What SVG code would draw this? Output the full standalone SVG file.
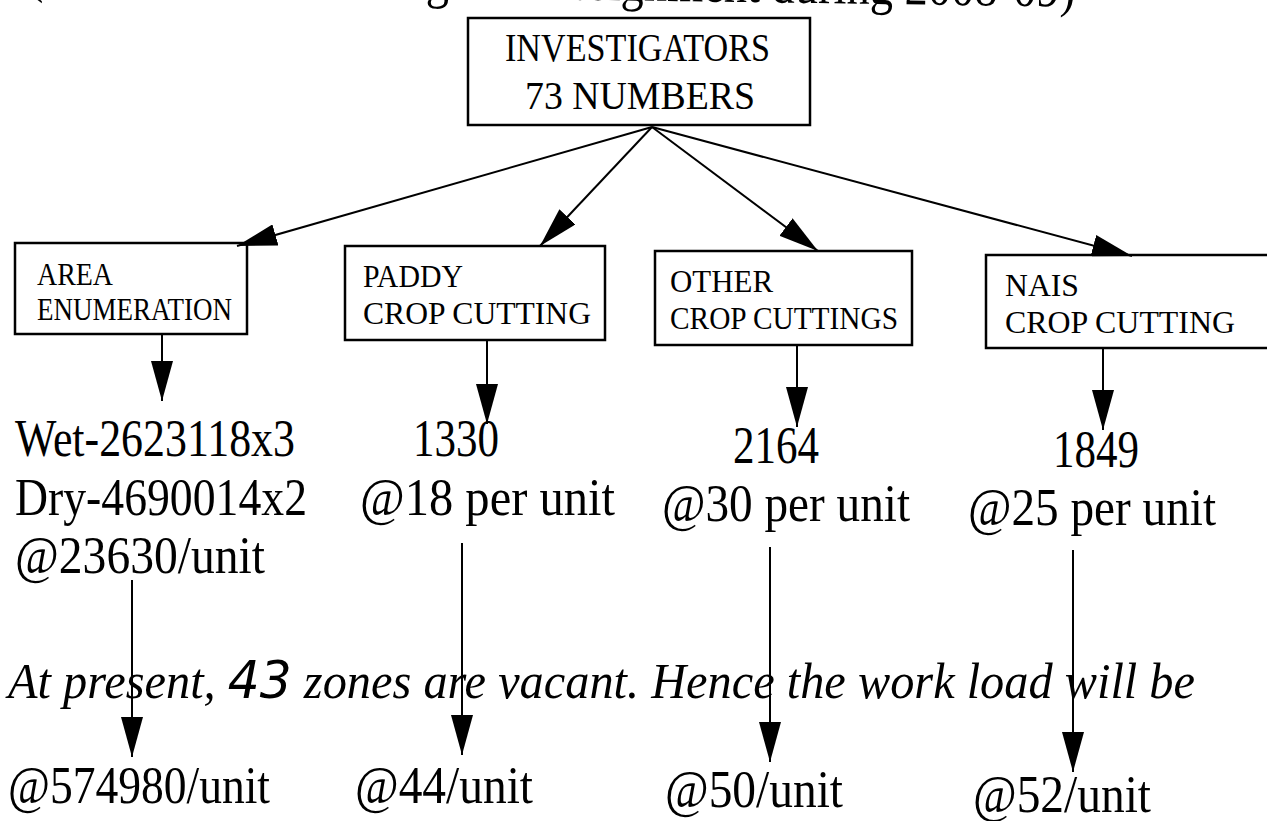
<svg xmlns="http://www.w3.org/2000/svg" width="1267" height="821" viewBox="0 0 1267 821">
<defs>
<marker id="ah" markerUnits="userSpaceOnUse" markerWidth="40" markerHeight="22" refX="40" refY="11" orient="auto">
<path d="M0,0 L40,11 L0,22 z" fill="#000"/>
</marker>
<style>
.box{fill:#fff;stroke:#000;stroke-width:2.5}
.bt{font-family:"Liberation Serif","Times New Roman",serif;font-size:32px;fill:#000}
.tt{font-family:"Liberation Serif","Times New Roman",serif;font-size:40px;fill:#000}
.big{font-family:"Liberation Serif","Times New Roman",serif;font-size:52px;fill:#000}
.it{font-family:"Liberation Serif","Times New Roman",serif;font-size:50px;font-style:italic;fill:#000}
.c{stroke:#000;stroke-width:2;fill:none;marker-end:url(#ah)}
</style>
</defs>
<rect width="1267" height="821" fill="#fff"/>
<text class="big" x="28" y="-8" transform="rotate(0.8 28 -8)" textLength="1047" lengthAdjust="spacingAndGlyphs">(Work load of Investigators assignment during 2008-09)</text>

<g id="investigators">
<rect class="box" x="468" y="18" width="342" height="107"/>
<text class="tt" x="505" y="61" textLength="265" lengthAdjust="spacingAndGlyphs">INVESTIGATORS</text>
<text class="tt" x="525" y="109" textLength="230" lengthAdjust="spacingAndGlyphs">73 NUMBERS</text>
</g>

<g id="area">
<rect class="box" x="15" y="243" width="232" height="91"/>
<text class="bt" x="37" y="285" textLength="76" lengthAdjust="spacingAndGlyphs">AREA</text>
<text class="bt" x="37" y="320" textLength="195" lengthAdjust="spacingAndGlyphs">ENUMERATION</text>
</g>
<g id="paddy">
<rect class="box" x="345" y="246" width="260" height="94"/>
<text class="bt" x="363" y="287" textLength="100" lengthAdjust="spacingAndGlyphs">PADDY</text>
<text class="bt" x="363" y="324" textLength="228" lengthAdjust="spacingAndGlyphs">CROP CUTTING</text>
</g>
<g id="other">
<rect class="box" x="655" y="251" width="257" height="94"/>
<text class="bt" x="670" y="292" textLength="103" lengthAdjust="spacingAndGlyphs">OTHER</text>
<text class="bt" x="670" y="329" textLength="228" lengthAdjust="spacingAndGlyphs">CROP CUTTINGS</text>
</g>
<g id="nais">
<rect class="box" x="986" y="255" width="300" height="93"/>
<text class="bt" x="1005" y="296" textLength="74" lengthAdjust="spacingAndGlyphs">NAIS</text>
<text class="bt" x="1005" y="333" textLength="230" lengthAdjust="spacingAndGlyphs">CROP CUTTING</text>
</g>

<g id="area-vals">
<text class="big" x="15" y="456" textLength="280" lengthAdjust="spacingAndGlyphs">Wet-2623118x3</text>
<text class="big" x="15" y="515" textLength="292" lengthAdjust="spacingAndGlyphs">Dry-4690014x2</text>
<text class="big" x="15" y="573" textLength="250" lengthAdjust="spacingAndGlyphs">@23630/unit</text>
</g>
<g id="paddy-vals">
<text class="big" x="413" y="456" textLength="86" lengthAdjust="spacingAndGlyphs">1330</text>
<text class="big" x="360" y="515" textLength="255" lengthAdjust="spacingAndGlyphs">@18 per unit</text>
</g>
<g id="other-vals">
<text class="big" x="733" y="463" textLength="86" lengthAdjust="spacingAndGlyphs">2164</text>
<text class="big" x="662" y="521" textLength="248" lengthAdjust="spacingAndGlyphs">@30 per unit</text>
</g>
<g id="nais-vals">
<text class="big" x="1053" y="467" textLength="86" lengthAdjust="spacingAndGlyphs">1849</text>
<text class="big" x="968" y="525" textLength="248" lengthAdjust="spacingAndGlyphs">@25 per unit</text>
</g>

<g id="note">
<text class="it" x="8" y="698" textLength="1187" lengthAdjust="spacingAndGlyphs">At present, <tspan font-size="52" font-family="'DejaVu Sans',sans-serif">43</tspan> zones are vacant. Hence the work load will be</text>
</g>

<g id="results">
<text class="big" x="8" y="803" textLength="262" lengthAdjust="spacingAndGlyphs">@574980/unit</text>
<text class="big" x="355" y="803" textLength="178" lengthAdjust="spacingAndGlyphs">@44/unit</text>
<text class="big" x="665" y="807" textLength="178" lengthAdjust="spacingAndGlyphs">@50/unit</text>
<text class="big" x="973" y="812" textLength="178" lengthAdjust="spacingAndGlyphs">@52/unit</text>
</g>

<g id="connectors">
<line class="c" x1="652" y1="127" x2="237" y2="246"/>
<line class="c" x1="652" y1="127" x2="540" y2="246"/>
<line class="c" x1="652" y1="127" x2="818" y2="251"/>
<line class="c" x1="652" y1="127" x2="1132" y2="256"/>
<line class="c" x1="162" y1="334" x2="162" y2="401"/>
<line class="c" x1="487" y1="340" x2="487" y2="424"/>
<line class="c" x1="797" y1="345" x2="797" y2="427"/>
<line class="c" x1="1103" y1="348" x2="1103" y2="430"/>
<line class="c" x1="132" y1="580" x2="132" y2="757"/>
<line class="c" x1="462" y1="543" x2="462" y2="755"/>
<line class="c" x1="770" y1="547" x2="770" y2="762"/>
<line class="c" x1="1073" y1="550" x2="1073" y2="772"/>
</g>
</svg>
